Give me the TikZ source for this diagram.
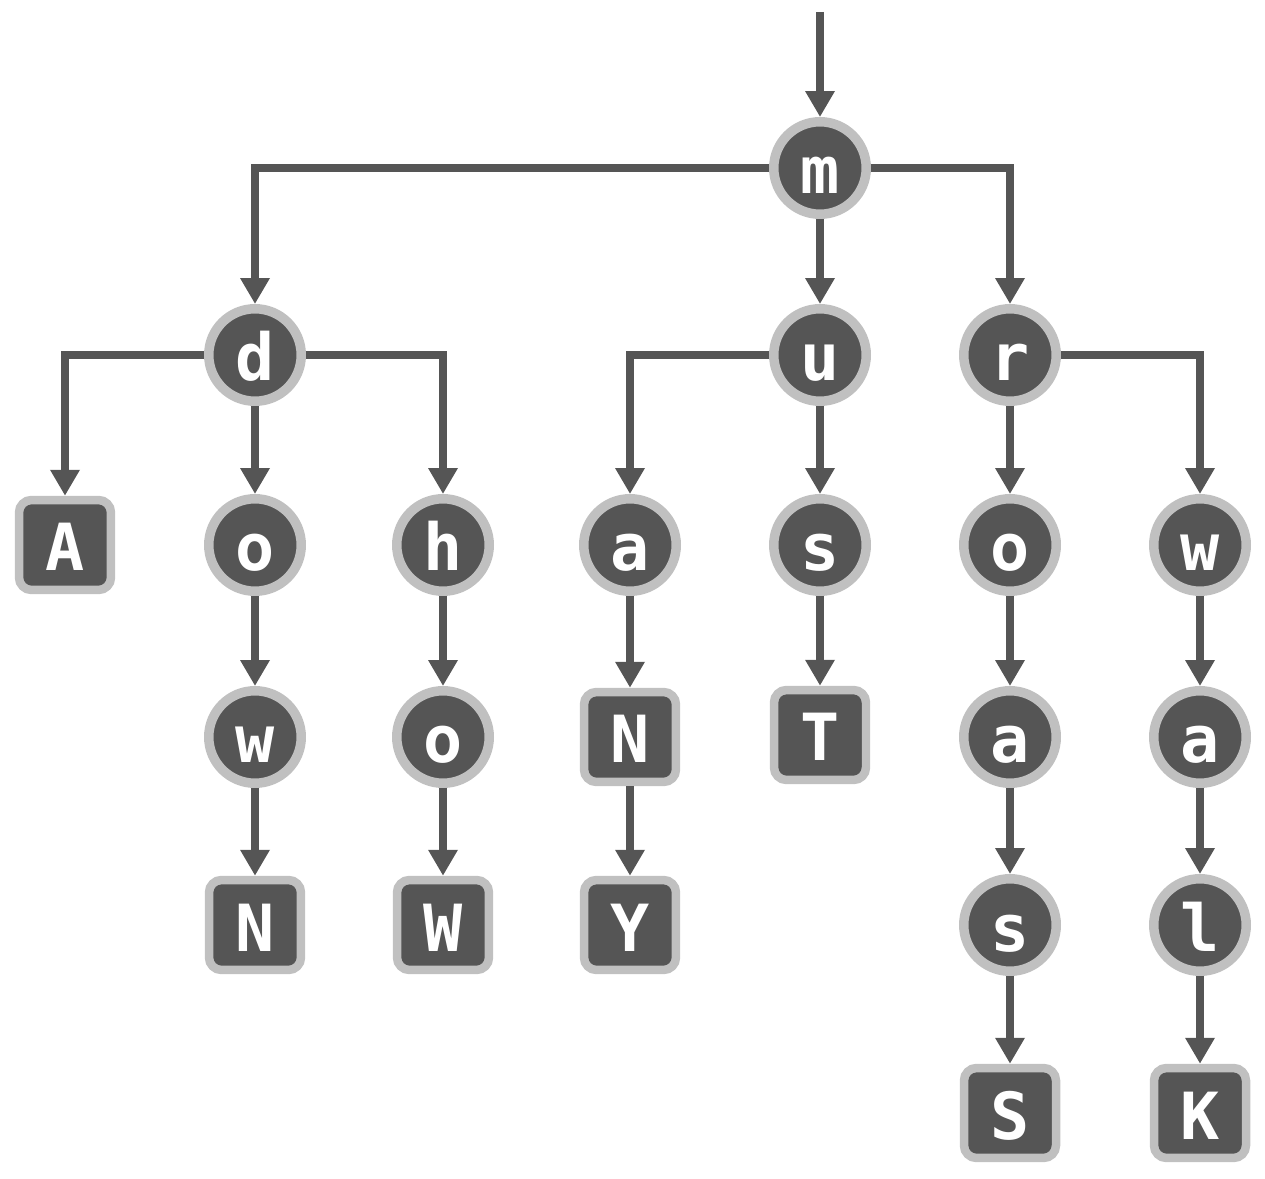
\documentclass[tikz,border=0pt]{standalone}
\usepackage{fontspec}
\setmonofont{DejaVu Sans Mono}
\usetikzlibrary{arrows.meta}

\definecolor{dark}{RGB}{85,85,85}
\definecolor{rim}{RGB}{192,192,192}

\begin{document}
\begin{tikzpicture}[x=0.02cm, y=-0.02cm, %px
        inner/.style={circle, fill=dark, draw=rim, line width=0.19cm, minimum size=1.85cm, inner sep=0pt,
            text=white, text height=1.04cm, text depth=0cm, font=\ttfamily\bfseries\fontsize{37}{37}\selectfont},
        leaf/.style={rectangle, rounded corners=0.25cm, fill=dark, draw=rim, line width=0.17cm,
            minimum width=1.84cm, minimum height=1.8cm, inner sep=0pt,
            text=white, text height=1.04cm, text depth=0cm, font=\ttfamily\bfseries\fontsize{37}{37}\selectfont},
        edge/.style={dark, line width=0.16cm, -{Triangle[width=0.56cm, length=0.52cm]}}]
            \useasboundingbox (0,0) rectangle (1265,1179);

            % row 1
            \node[inner] (m) at (820,168) {m};
            % row 2
            \node[inner] (d) at (255,355) {d};
            \node[inner] (u) at (820,355) {u};
            \node[inner] (r) at (1010,355) {r};
            % row 3
            \node[leaf]  (dA) at (65,545) {A};
            \node[inner] (do) at (255,545) {o};
            \node[inner] (dh) at (443,545) {h};
            \node[inner] (ua) at (630,545) {a};
            \node[inner] (us) at (820,545) {s};
            \node[inner] (ro) at (1010,545) {o};
            \node[inner] (rw) at (1200,545) {w};
            % row 4
            \node[inner] (dow) at (255,737) {w};
            \node[inner] (dho) at (443,737) {o};
            \node[leaf]  (uaN) at (630,737) {N};
            \node[leaf]  (usT) at (820,735) {T};
            \node[inner] (roa) at (1010,737) {a};
            \node[inner] (rwa) at (1200,737) {a};
            % row 5
            \node[leaf]  (dowN) at (255,925) {N};
            \node[leaf]  (dhoW) at (443,925) {W};
            \node[leaf]  (uaNY) at (630,925) {Y};
            \node[inner] (roas) at (1010,925) {s};
            \node[inner] (rwal) at (1200,925) {l};
            % row 6
            \node[leaf]  (roasS) at (1010,1113) {S};
            \node[leaf]  (rwalK) at (1200,1113) {K};

            \coordinate (start) at (820,12);
            \draw[edge] (start) -- (m);

            \draw[edge] (m.west) -| (d.north);
            \draw[edge] (m) -- (u);
            \draw[edge] (m.east) -| (r.north);

            \draw[edge] (d.west) -| (dA.north);
            \draw[edge] (d) -- (do);
            \draw[edge] (d.east) -| (dh.north);
            \draw[edge] (u.west) -| (ua.north);
            \draw[edge] (u) -- (us);
            \draw[edge] (r) -- (ro);
            \draw[edge] (r.east) -| (rw.north);

            \draw[edge] (do) -- (dow);
            \draw[edge] (dh) -- (dho);
            \draw[edge] (ua) -- (uaN);
            \draw[edge] (us) -- (usT);
            \draw[edge] (ro) -- (roa);
            \draw[edge] (rw) -- (rwa);

            \draw[edge] (dow) -- (dowN);
            \draw[edge] (dho) -- (dhoW);
            \draw[edge] (uaN) -- (uaNY);
            \draw[edge] (roa) -- (roas);
            \draw[edge] (rwa) -- (rwal);

            \draw[edge] (roas) -- (roasS);
            \draw[edge] (rwal) -- (rwalK);
        \end{tikzpicture}
\end{document}
